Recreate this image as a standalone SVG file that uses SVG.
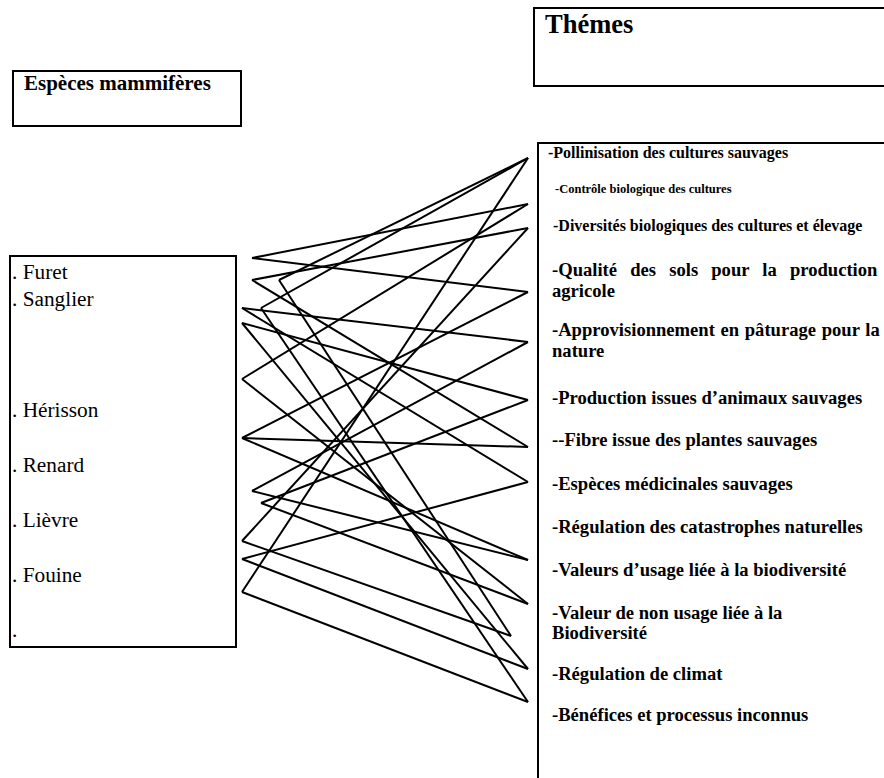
<svg xmlns="http://www.w3.org/2000/svg" width="884" height="778" viewBox="0 0 884 778">
<style>
.box{fill:#fff;stroke:#000;stroke-width:2}
.h{font-family:"Liberation Serif","Times New Roman",serif;font-weight:bold;fill:#000}
.li{font-family:"Liberation Serif","Times New Roman",serif;font-size:21.3px;fill:#000}
.sm{font-family:"Liberation Serif","Times New Roman",serif;font-weight:bold;font-size:16px;fill:#000}
.sm2{font-family:"Liberation Serif","Times New Roman",serif;font-weight:bold;font-size:12.5px;fill:#000}
.lg{font-family:"Liberation Serif","Times New Roman",serif;font-weight:bold;font-size:18.6px;fill:#000}
.cn line{stroke:#000;stroke-width:2;fill:none}
</style>
<rect width="884" height="778" fill="#fff"/>
<g id="especes-header">
<rect class="box" x="13" y="71" width="228" height="55"/>
<text class="h" x="24" y="90" font-size="21">Espèces mammifères</text>
</g>
<g id="themes-header">
<rect class="box" x="534" y="8" width="360" height="78"/>
<text class="h" x="545" y="33" font-size="26.5">Thémes</text>
</g>
<g id="especes-list">
<rect class="box" x="10" y="256" width="226" height="391"/>
<text class="li" x="12" y="279">. Furet</text>
<text class="li" x="12" y="306">. Sanglier</text>
<text class="li" x="12" y="417">. Hérisson</text>
<text class="li" x="12" y="472">. Renard</text>
<text class="li" x="12" y="527">. Lièvre</text>
<text class="li" x="12" y="582">. Fouine</text>
<text class="li" x="12" y="637">.</text>
</g>
<g id="themes-list">
<rect class="box" x="538" y="143" width="360" height="650"/>
<text class="sm" x="548" y="158">-Pollinisation des cultures sauvages</text>
<text class="sm2" x="555" y="193">-Contrôle biologique des cultures</text>
<text class="sm" x="553" y="231">-Diversités biologiques des cultures et élevage</text>
<text class="lg" x="552" y="276" word-spacing="8.5">-Qualité des sols pour la production</text>
<text class="lg" x="552" y="297">agricole</text>
<text class="lg" x="552" y="336" word-spacing="1">-Approvisionnement en pâturage pour la</text>
<text class="lg" x="552" y="357">nature</text>
<text class="lg" x="552" y="404">-Production issues d’animaux sauvages</text>
<text class="lg" x="552" y="446">--Fibre issue des plantes sauvages</text>
<text class="lg" x="552" y="490">-Espèces médicinales sauvages</text>
<text class="lg" x="552" y="533">-Régulation des catastrophes naturelles</text>
<text class="lg" x="552" y="576">-Valeurs d’usage liée à la biodiversité</text>
<text class="lg" x="552" y="619">-Valeur de non usage liée à la</text>
<text class="lg" x="552" y="639">Biodiversité</text>
<text class="lg" x="552" y="680">-Régulation de climat</text>
<text class="lg" x="552" y="721">-Bénéfices et processus inconnus</text>
</g>
<g id="connectors" class="cn">
<line x1="252" y1="258" x2="528" y2="204"/>
<line x1="252" y1="258" x2="528" y2="292"/>
<line x1="252" y1="280" x2="528" y2="228"/>
<line x1="252" y1="280" x2="528" y2="447"/>
<line x1="279" y1="280" x2="528" y2="158"/>
<line x1="279" y1="280" x2="511" y2="636"/>
<line x1="242" y1="308" x2="528" y2="342"/>
<line x1="242" y1="308" x2="528" y2="482"/>
<line x1="261" y1="308" x2="528" y2="158"/>
<line x1="261" y1="308" x2="528" y2="702"/>
<line x1="242" y1="323" x2="528" y2="400"/>
<line x1="242" y1="323" x2="528" y2="669"/>
<line x1="242" y1="379" x2="528" y2="204"/>
<line x1="242" y1="379" x2="528" y2="604"/>
<line x1="242" y1="438" x2="528" y2="292"/>
<line x1="242" y1="438" x2="528" y2="447"/>
<line x1="242" y1="438" x2="528" y2="560"/>
<line x1="252" y1="491" x2="528" y2="342"/>
<line x1="252" y1="491" x2="528" y2="560"/>
<line x1="261" y1="503" x2="528" y2="400"/>
<line x1="261" y1="503" x2="528" y2="604"/>
<line x1="242" y1="541" x2="528" y2="228"/>
<line x1="242" y1="541" x2="511" y2="636"/>
<line x1="242" y1="559" x2="528" y2="482"/>
<line x1="242" y1="559" x2="528" y2="669"/>
<line x1="242" y1="592" x2="528" y2="158"/>
<line x1="242" y1="592" x2="528" y2="702"/>
</g>
</svg>
